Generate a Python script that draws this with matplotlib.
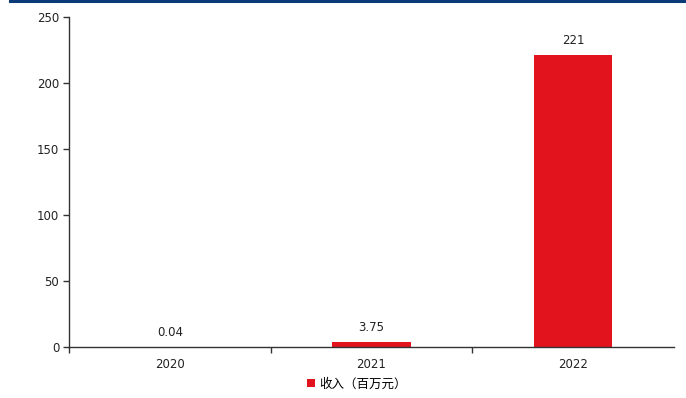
import matplotlib
matplotlib.use("Agg")
import matplotlib.pyplot as plt
from matplotlib.lines import Line2D
from matplotlib.patches import Patch

plt.rcParams['font.family'] = ['DejaVu Sans', 'Noto Sans CJK SC']

years = ["2020", "2021", "2022"]
revenue = [0.04, 3.75, 221]
value_labels = ["0.04", "3.75", "221"]
series_name = "收入（百万元）"
y_ticks = [0, 50, 100, 150, 200, 250]

bar_color = "#e3131e"

fig = plt.figure(figsize=(6.86, 3.98), dpi=100)
ax = fig.add_axes([69 / 686, 51 / 398, (674 - 69) / 686, (347 - 17) / 398])

x = list(range(len(years)))
ax.bar(x, revenue, width=0.39, color=bar_color, zorder=2)

for xi, v, lab in zip(x, revenue, value_labels):
    ax.annotate(lab, (xi, v), xytext=(0, 6), textcoords="offset points",
                ha="center", va="bottom", fontsize=8.5, color="#222222")

ax.set_xlim(-0.5, len(years) - 0.5)
ax.set_ylim(0, 250)
ax.set_yticks(y_ticks)
ax.set_yticklabels([str(t) for t in y_ticks], fontsize=8.5, color="#222222")

ax.set_xticks(x)
ax.set_xticklabels(years, fontsize=8.5, color="#222222")
ax.tick_params(axis="x", which="major", length=0, pad=8)
# category separators (no tick at the far right end)
ax.set_xticks([i - 0.5 for i in range(len(years))], minor=True)
ax.tick_params(axis="x", which="minor", length=4, width=1, color="#333333", direction="out")
ax.tick_params(axis="y", length=4, width=1, color="#333333", direction="out", pad=3)

for side in ("top", "right"):
    ax.spines[side].set_visible(False)
for side in ("left", "bottom"):
    ax.spines[side].set_color("#333333")
    ax.spines[side].set_linewidth(1)

handle = Patch(facecolor=bar_color, edgecolor="none")
fig.legend([handle], [series_name], loc="center", bbox_to_anchor=(357 / 686, 1 - 384 / 398),
           frameon=False, handlelength=0.6, handleheight=0.6,
           handletextpad=0.4, prop={'family': ['Noto Sans CJK SC'], 'size': 9})

# Header rule across the top
fig.add_artist(Line2D([10 / 686, 1], [1 - 1 / 398, 1 - 1 / 398], transform=fig.transFigure,
                      color="#0b3a78", linewidth=2.2))

fig.savefig("out.png", dpi=100)
